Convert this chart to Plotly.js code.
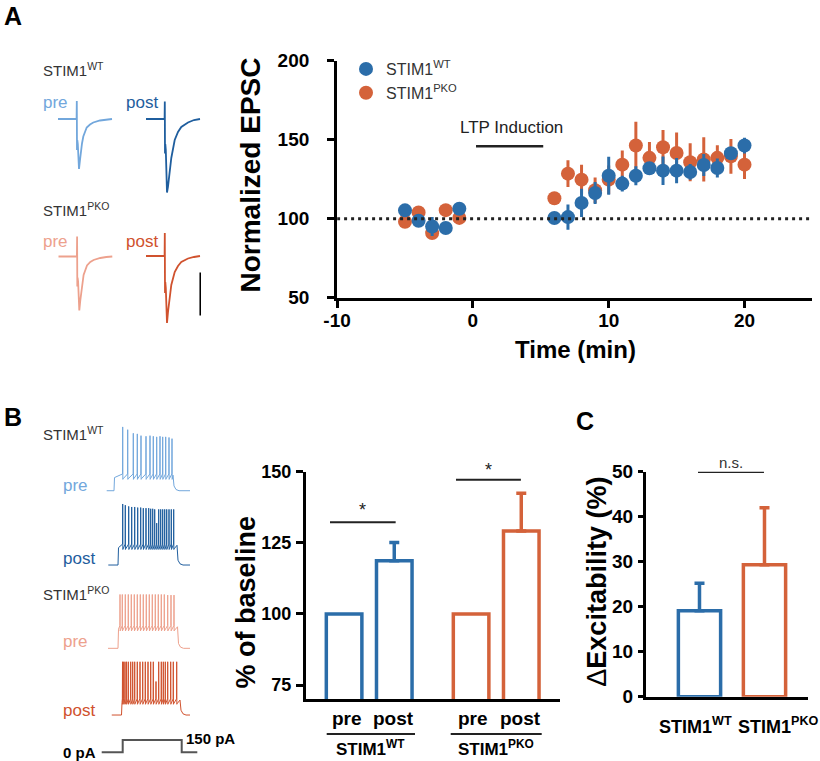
<!DOCTYPE html>
<html><head><meta charset="utf-8">
<script src="https://cdn.plot.ly/plotly-3.0.1.min.js"></script>
<style>body{margin:0;padding:0;background:#fff}#chart{width:820px;height:761px}</style>
</head><body><div id="chart"></div>
<script>
// ================= DATA =================
// Panel A: time course of normalized EPSC (%)
const timeMin   = [-5,-4,-3,-2,-1,6,7,8,9,10,11,12,13,14,15,16,17,18,19,20];
const wtEPSC    = [105.3,98.7,95.1,94.1,106.3,100.4,101,110,116.3,127.2,122.2,127.2,131.9,130.4,130.4,129.6,134,132.1,141.4,146.3];
const wtSEM     = [2,3,6,3,4,2,8,9,7,12,5,6,3,9,8,5,7,6,4,5];
const pkoEPSC   = [98.1,104,90.9,105.4,100.5,112.9,128.5,124.7,118,124.7,134.2,146.3,138.5,145.2,141.6,135.7,137.5,138.5,139.5,134.2];
const pkoSEM    = [2,3,2,3,2,2,8.5,9.5,8,9,9,15,10,11,13,12,14,8,11,9];
const xTickVals = [-10,0,10,20];
const xTickText = ['-10','0','10','20'];
const baselineLevel = 100;
const ltpWindow = [0.23, 5.18];
const ltpLevel = 145.8;

// Panel A: example EPSC traces (ms, pA)
const epscT   = [0,18.6,18.8,19.0,19.3,19.8,21.0,22.0,23.0,24.0,25.3,28.7,32,35.3,42,48,54];
const preWT   = [0,0,36,-62,-42,-50,-100,-82,-62,-49,-35,-17,-11,-7,-3,-1,0];
const postWT  = [0,0,35,-69,-50,-62,-147,-135,-118,-95,-78,-42,-26,-16,-7,-2,0];
const prePKO  = [0,0,40,-60,-42,-50,-108,-88,-68,-52,-37,-18,-11,-7,-3,-1,0];
const postPKO = [0,0,46,-74,-52,-64,-134,-112,-92,-75,-58,-32,-20,-12,-5,-2,0];
const scaleBarT = [54.7,54.7];
const scaleBarI = [-33,-119];

// Panel B: firing traces (ms, mV)
const spkPreWT_t  = [187,237,293,333,370,420,460,493,527,560,587,617,650,680];
const spkPreWT_v  = [37,32,26,25,22,21,22,21,20,21,20,20,19,17];
const spkPostWT_t = [147,173,207,237,267,297,327,353,380,407,427,447,467,487,507,527,547,567,587,610,633,657];
const spkPostWT_v = [32,30,28,27,27,26,26,25,25,25,24,24,23,0,23,23,23,23,23,23,23,23];
const spkPrePKO_t = [120,143,173,203,233,263,293,323,353,383,413,443,473,503,533,563,597,630,660];
const spkPrePKO_v = [20,20,20,20,20,20,20,20,20,20,20,20,20,20,20,20,19,19,19];
const spkPostPKO_t= [110,122,135,150,168,192,212,232,258,285,312,338,365,392,418,445,472,498,518,538,562,592,618,652];
const spkPostPKO_v= [19,19,19,19,19,19,19,19,19,19,19,19,19,19,19,-14,19,19,19,19,19,19,19,19];
// [start, onset, offset, end, rest, plateau]
const preWTparams  = [27,100,690,860,-70,-44];
const postWTparams = [3,100,690,820,-70,-37];
const prePKOparams = [0,100,695,820,-70,-34];
const postPKOparams= [0,100,685,785,-70,-45];
const stepT = [17,227,227,817,817,973];
const stepI = [0,0,150,150,0,0];

// Panel B: % of baseline
const genotypes = ['STIM1WT','STIM1PKO'];
const preVals  = [100,100];
const postVals = [118.7,129.2];
const postErr  = [6.4,13.2];
const sigLevelsB = [132.2,147.2];

// Panel C: delta excitability
const excitVals = [19.1,29.3];
const excitErr  = [6.1,12.7];
const nsLevel = 50;

// ================= STYLE / LAYOUT =================
const W=820,H=761;
const FONT='Liberation Sans, Arial, Helvetica, sans-serif';
const BLUE='#2b6da9', ORANGE='#d4623a';
const C_PREWT='#72a7dc', C_POSTWT='#1f5e9e', C_PREKO='#eda18d', C_POSTKO='#d0522e';
const fx=p=>p/W, fy=p=>1-p/H;

function buildSpikeTrain(p, spT, spV){
  const [t0,on,off,tEnd,rest,plat]=p;
  const x=[t0,on,on+5], y=[rest,rest,plat-4];
  spT.forEach((t,i)=>{ x.push(t-1.5,t,t+1.5,t+4); y.push(plat+2,spV[i],plat-7,plat-6); });
  x.push(off,off+10,off+30,off+60,tEnd); y.push(plat,rest+8,rest+2,rest,rest);
  return {x,y};
}

const traces=[];
// Panel A main
traces.push({type:'scatter',mode:'markers',x:timeMin,y:pkoEPSC,name:'STIM1<sup>PKO</sup>',
  marker:{size:14,color:ORANGE},error_y:{type:'data',array:pkoSEM,thickness:3,width:0,color:ORANGE},xaxis:'x',yaxis:'y',cliponaxis:false});
traces.push({type:'scatter',mode:'markers',x:timeMin,y:wtEPSC,name:'STIM1<sup>WT</sup>',
  marker:{size:14,color:BLUE},error_y:{type:'data',array:wtSEM,thickness:3,width:0,color:BLUE},xaxis:'x',yaxis:'y',cliponaxis:false});

// EPSC traces
const epscSets=[[preWT,C_PREWT,4],[postWT,C_POSTWT,5],[prePKO,C_PREKO,6],[postPKO,C_POSTKO,7]];
epscSets.forEach(([v,c,n])=>traces.push({type:'scatter',mode:'lines',x:epscT,y:v,line:{color:c,width:1.8},
  xaxis:'x'+n,yaxis:'y'+n,showlegend:false}));
traces.push({type:'scatter',mode:'lines',x:scaleBarT,y:scaleBarI,line:{color:'#000',width:2.5},xaxis:'x7',yaxis:'y7',showlegend:false});

// Spike traces
const spikeSets=[[preWTparams,spkPreWT_t,spkPreWT_v,C_PREWT,8],[postWTparams,spkPostWT_t,spkPostWT_v,C_POSTWT,9],
  [prePKOparams,spkPrePKO_t,spkPrePKO_v,C_PREKO,10],[postPKOparams,spkPostPKO_t,spkPostPKO_v,C_POSTKO,11]];
spikeSets.forEach(([p,t,v,c,n])=>{const d=buildSpikeTrain(p,t,v);
  traces.push({type:'scatter',mode:'lines',x:d.x,y:d.y,line:{color:c,width:1},xaxis:'x'+n,yaxis:'y'+n,showlegend:false});});
traces.push({type:'scatter',mode:'lines',x:stepT,y:stepI,line:{color:'#555',width:2},xaxis:'x12',yaxis:'y12',showlegend:false});

// Panel B and C bars
const gCol=[BLUE,ORANGE];
genotypes.forEach((g,i)=>{
  traces.push({type:'bar',x:[g],y:[preVals[i]],offset:-0.34,width:0.28,marker:{color:'#fff',line:{color:gCol[i],width:3.5}},
    xaxis:'x2',yaxis:'y2',showlegend:false});
  traces.push({type:'bar',x:[g],y:[postVals[i]],offset:0.055,width:0.28,marker:{color:'#fff',line:{color:gCol[i],width:3.5}},
    error_y:{type:'data',symmetric:false,array:[postErr[i]],arrayminus:[0],color:gCol[i],thickness:3.5,width:5},
    xaxis:'x2',yaxis:'y2',showlegend:false});
  traces.push({type:'bar',x:[g],y:[excitVals[i]],width:0.65,marker:{color:'#fff',line:{color:gCol[i],width:3.5}},
    error_y:{type:'data',symmetric:false,array:[excitErr[i]],arrayminus:[0],color:gCol[i],thickness:3.5,width:5},
    xaxis:'x3',yaxis:'y3',showlegend:false});
});

const tf=(s)=>({family:FONT,size:s,color:'#000',weight:'bold'});
const axBase={showline:true,linecolor:'#000',showgrid:false,zeroline:false,ticks:'outside',tickcolor:'#000',fixedrange:true};
const hid=(dx,dy,rx,ry,anc)=>({x:{domain:[fx(dx[0]),fx(dx[1])],range:rx,visible:false,anchor:'y'+anc,fixedrange:true},
  y:{domain:[fy(dy[0]),fy(dy[1])],range:ry,visible:false,anchor:'x'+anc,fixedrange:true}});

const layout={width:W,height:H,margin:{l:0,r:0,t:0,b:0},paper_bgcolor:'#fff',plot_bgcolor:'rgba(0,0,0,0)',
  font:{family:FONT},barmode:'overlay',showlegend:true,
  legend:{x:fx(346),y:fy(52),xanchor:'left',yanchor:'top',traceorder:'reversed',bgcolor:'rgba(0,0,0,0)',
    font:{family:FONT,size:16,color:'#333'},itemwidth:30,tracegroupgap:0},
  xaxis:Object.assign({},axBase,{domain:[fx(337.1),fx(812.4)],range:[-10,25],tickmode:'array',tickvals:xTickVals,ticktext:xTickText,linewidth:3,
    ticklen:7,tickwidth:3,tickfont:tf(19),anchor:'y',ticklabelstandoff:-4}),
  yaxis:Object.assign({},axBase,{domain:[fy(297.7),fy(60.7)],range:[50,200],tickvals:[50,100,150,200],linewidth:3,
    ticklen:7,tickwidth:3,tickfont:tf(19),anchor:'x',ticklabelstandoff:14}),
  xaxis2:Object.assign({},axBase,{type:'category',domain:[fx(306),fx(560)],range:[-0.5,1.5],linewidth:3,ticks:'',
    showticklabels:false,anchor:'y2'}),
  yaxis2:Object.assign({},axBase,{domain:[fy(699.3),fy(471.7)],range:[70,150],tickvals:[75,100,125,150],linewidth:3,
    ticklen:7,tickwidth:3,tickfont:tf(18),anchor:'x2',ticklabelstandoff:1}),
  xaxis3:Object.assign({},axBase,{type:'category',domain:[fx(646),fx(808.3)],range:[-0.823,1.674],linewidth:3,ticks:'',
    showticklabels:false,anchor:'y3'}),
  yaxis3:Object.assign({},axBase,{domain:[fy(696.7),fy(471.7)],range:[0,50],tickvals:[0,10,20,30,40,50],linewidth:3,
    ticklen:5,tickwidth:3,tickfont:tf(19),anchor:'x3',ticklabelstandoff:1}),
  shapes:[],annotations:[]};

const hAxes=[
  hid([58,113],[200,95],[0,55],[-162,48],4),
  hid([146,201],[200,95],[0,55],[-162,48],5),
  hid([58.3,113.3],[337.5,232.5],[0,55],[-162,48],6),
  hid([146,201],[337,232],[0,55],[-162,48],7),
  hid([104,192],[496.7,426.7],[0,880],[-80,37],8),
  hid([108,196],[571,501],[0,880],[-80,37],9),
  hid([108,196],[654.3,584.3],[0,880],[-80,37],10),
  hid([111.5,199.5],[721,651],[0,880],[-80,37],11),
  hid([100,198],[755,737],[0,980],[-33,187],12)];
hAxes.forEach((a,i)=>{const n=i+4; layout['xaxis'+n]=a.x; layout['yaxis'+n]=a.y;});

// shapes
layout.shapes.push({type:'line',xref:'x',yref:'y',x0:-10,x1:25,y0:baselineLevel,y1:baselineLevel,line:{color:'#222',width:3,dash:'3px,4px'}});
layout.shapes.push({type:'line',xref:'x',yref:'y',x0:ltpWindow[0],x1:ltpWindow[1],y0:ltpLevel,y1:ltpLevel,line:{color:'#222',width:2.5}});
layout.shapes.push({type:'line',xref:'x2',yref:'y2',x0:-0.311,x1:0.206,y0:sigLevelsB[0],y1:sigLevelsB[0],line:{color:'#222',width:2}});
layout.shapes.push({type:'line',xref:'x2',yref:'y2',x0:0.681,x1:1.192,y0:sigLevelsB[1],y1:sigLevelsB[1],line:{color:'#222',width:2}});
layout.shapes.push({type:'line',xref:'x3',yref:'y3',x0:-0.023,x1:0.992,y0:nsLevel,y1:nsLevel,line:{color:'#222',width:2.5}});
layout.shapes.push({type:'line',xref:'paper',yref:'paper',x0:fx(326.7),x1:fx(415),y0:fy(734),y1:fy(734),line:{color:'#222',width:2}});
layout.shapes.push({type:'line',xref:'paper',yref:'paper',x0:fx(450.7),x1:fx(541.7),y0:fy(734),y1:fy(734),line:{color:'#222',width:2}});

function ann(text,x,y,o){o=o||{};return {text:text,x:fx(x),y:fy(y),xref:'paper',yref:'paper',showarrow:false,
  xanchor:o.xa||'center',yanchor:o.ya||'middle',textangle:o.angle||0,
  font:{family:FONT,size:o.size||15,color:o.color||'#000',weight:o.bold?'bold':'normal'}};}
const A=layout.annotations;
A.push(ann('A',13,16,{size:25,bold:true}));
A.push(ann('B',13,417,{size:25,bold:true}));
A.push(ann('C',585,421,{size:25,bold:true}));
// Panel A inset labels
A.push(ann('STIM1<sup>WT</sup>',41,70,{xa:'left',color:'#333'}));
A.push(ann('pre',41,102,{xa:'left',size:17,color:C_PREWT}));
A.push(ann('post',124,102,{xa:'left',size:17,color:C_POSTWT}));
A.push(ann('STIM1<sup>PKO</sup>',41,209,{xa:'left',color:'#333'}));
A.push(ann('pre',41,241,{xa:'left',size:17,color:C_PREKO}));
A.push(ann('post',124,241,{xa:'left',size:17,color:C_POSTKO}));
// Panel A titles
A.push(ann('Normalized EPSC',250.5,175,{size:28,bold:true,angle:-90}));
A.push(ann('Time (min)',575,350,{size:24,bold:true}));
A.push({text:'LTP Induction',x:2.86,y:157.5,xref:'x',yref:'y',showarrow:false,font:{family:FONT,size:17,color:'#222'}});
// Panel B traces labels
A.push(ann('STIM1<sup>WT</sup>',41,433,{xa:'left',color:'#333'}));
A.push(ann('pre',61,485,{xa:'left',size:17,color:C_PREWT}));
A.push(ann('post',61,558,{xa:'left',size:17,color:C_POSTWT}));
A.push(ann('STIM1<sup>PKO</sup>',41,593,{xa:'left',color:'#333'}));
A.push(ann('pre',61,641,{xa:'left',size:17,color:C_PREKO}));
A.push(ann('post',61,710,{xa:'left',size:17,color:C_POSTKO}));
A.push(ann('0 pA',98,752,{xa:'right',size:15,bold:true}));
A.push(ann('150 pA',210,738,{size:15,bold:true}));
// Panel B chart labels
A.push(ann('% of baseline',245,602.5,{size:27,bold:true,angle:-90}));
A.push(ann('pre',346.7,718,{size:19,bold:true}));
A.push(ann('post',393.5,718,{size:19,bold:true}));
A.push(ann('pre',473,718,{size:19,bold:true}));
A.push(ann('post',520.7,718,{size:19,bold:true}));
A.push(ann('STIM1<sup>WT</sup>',370,748,{size:17,bold:true}));
A.push(ann('STIM1<sup>PKO</sup>',496,748,{size:17,bold:true}));
A.push(ann('*',362.7,510,{size:18,color:'#222'}));
A.push(ann('*',488.3,470,{size:18,color:'#222'}));
// Panel C labels
A.push(ann('<span style="font-weight:normal">Δ</span>Excitability (%)',596.7,582,{size:27,bold:true,angle:-90}));
A.push(ann('n.s.',730.7,462,{size:15,color:'#333'}));
A.push(ann('STIM1<sup>WT</sup>',695,725,{size:18,bold:true}));
A.push(ann('STIM1<sup>PKO</sup>',778,725,{size:18,bold:true}));

Plotly.newPlot('chart',traces,layout,{staticPlot:true,displayModeBar:false});
</script></body></html>
